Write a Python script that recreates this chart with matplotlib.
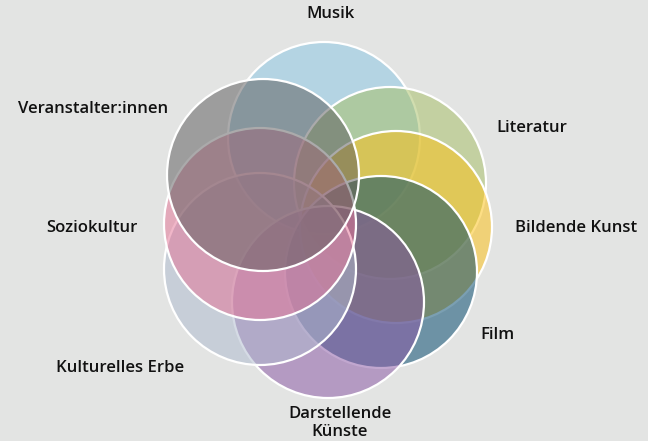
import numpy as np
import matplotlib
matplotlib.use("Agg")
import matplotlib.pyplot as plt
from matplotlib.patches import Circle
from matplotlib.colors import to_rgb

# Kategorien in Zeichenreihenfolge (unten -> oben)
categories = ["Musik", "Literatur", "Bildende Kunst", "Film",
              "Darstellende\nKünste", "Kulturelles Erbe", "Soziokultur",
              "Veranstalter:innen"]
# sichtbare Farben (ohne Überlappung)
seen_colors = ["#b4d5e3", "#c4d1a2", "#f0d278", "#6e93a5",
               "#b49ac2", "#c8ced8", "#e3a9bb", "#9e9e9e"]
# Kreismittelpunkte (Pixel im Bild)
center_x = [324, 390, 396, 381, 328, 260, 260, 263]
center_y = [138, 183, 227, 272, 302, 269, 224, 175]
radius = 96

# Beschriftungen
label_x = [331, 496, 515, 480, 340, 56, 46, 18]
label_y = [14, 128, 228, 335, 423, 368, 228, 109]
label_ha = ["center", "left", "left", "left", "center", "left", "left", "left"]

bg = "#e3e4e3"
alpha = 0.52

fig = plt.figure(figsize=(6.48, 4.41), dpi=100, facecolor=bg)
ax = fig.add_axes([0, 0, 1, 1])
ax.set_facecolor(bg)
ax.set_xlim(0, 648)
ax.set_ylim(441, 0)
ax.axis("off")

bg_rgb = np.array(to_rgb(bg))
for i, name in enumerate(categories):
    seen = np.array(to_rgb(seen_colors[i]))
    base = np.clip((seen - (1 - alpha) * bg_rgb) / alpha, 0, 1)
    ax.add_patch(Circle((center_x[i], center_y[i]), radius,
                        facecolor=(*base, alpha), edgecolor="white",
                        linewidth=1.6, zorder=2 + i))
    ax.text(label_x[i], label_y[i], name, ha=label_ha[i], va="center",
            fontsize=12, fontweight=600, family="Open Sans",
            color="#111111", linespacing=1.2)

fig.savefig("out.png", dpi=100, facecolor=bg)
